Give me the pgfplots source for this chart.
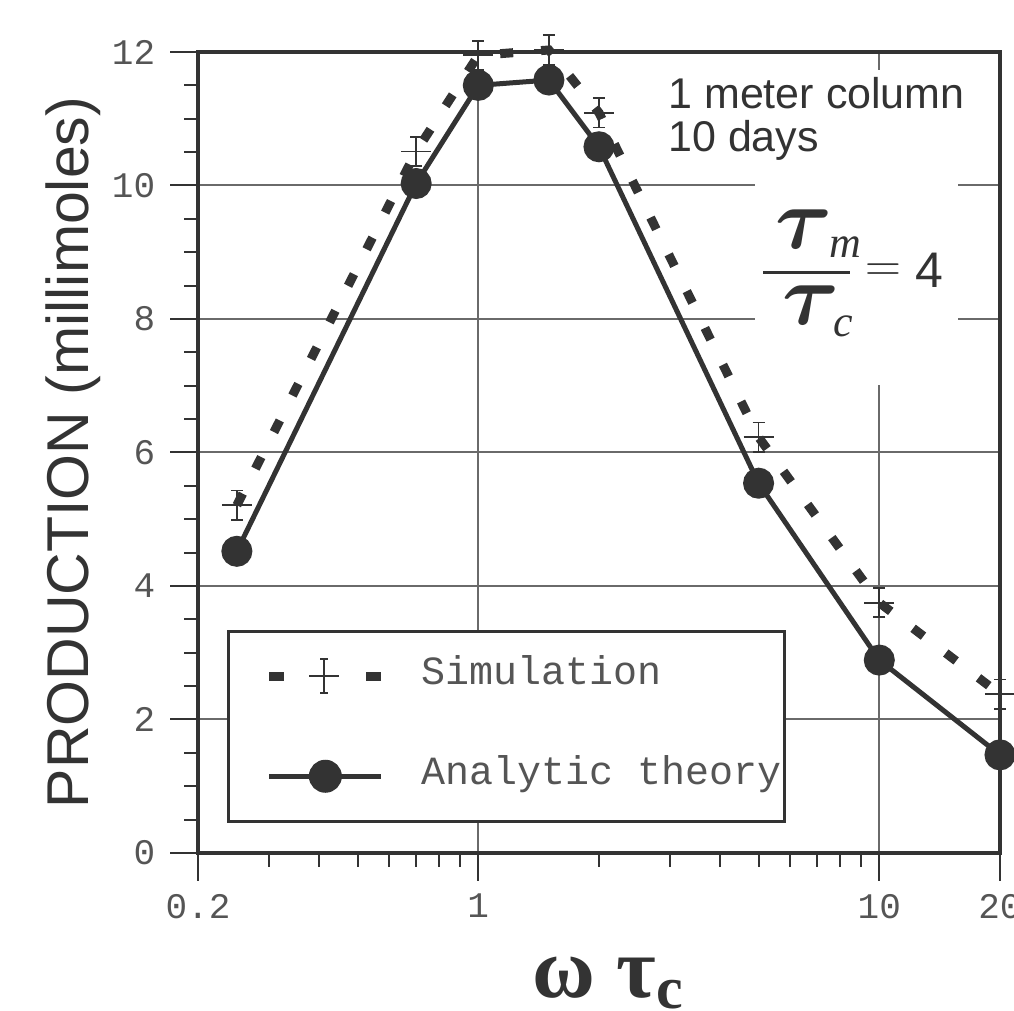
\documentclass[border=0pt]{standalone}
\usepackage{fontspec}
\setmainfont{Liberation Serif}
\setsansfont{Liberation Sans}
\setmonofont{Liberation Mono}
\usepackage{graphicx}
\usepackage{pgfplots}
\pgfplotsset{compat=1.18}
\definecolor{ink}{HTML}{333333}
\definecolor{gridc}{HTML}{6A6A6A}
\definecolor{txt}{HTML}{555555}

\pgfplotstableread{
x y err
0.25 5.21 0.22
0.7 10.51 0.22
1 11.95 0.22
1.5 12.03 0.22
2 11.09 0.22
5 6.23 0.22
10 3.75 0.22
20 2.38 0.22
}\simdata
\pgfplotstableread{
x y
0.25 4.52
0.7 10.03
1 11.5
1.5 11.58
2 10.58
5 5.54
10 2.89
20 1.47
}\theorydata

\begin{document}
\begin{tikzpicture}
\begin{axis}[
  at={(0,0)}, anchor=south west,
  scale only axis, width=401pt, height=400.5pt,
  xmode=log, xmin=0.2, xmax=20, ymin=0, ymax=12,
  clip=false,
  xtick={0.2,1,10,20},
  xticklabels={\texttt{0.2},\texttt{1},\texttt{10},\texttt{20}},
  minor xtick={0.3,0.4,0.5,0.6,0.7,0.8,0.9,2,3,4,5,6,7,8,9},
  ytick={0,2,4,6,8,10,12},
  yticklabels={\texttt{0},\texttt{2},\texttt{4},\texttt{6},\texttt{8},\texttt{10},\texttt{12}},
  minor y tick num=3,
  tick align=outside, tick pos=left,
  major tick length=14pt, minor tick length=7pt,
  tick style={ink, line width=1pt},
  grid=major, major grid style={gridc, line width=1pt},
  axis line style={ink, line width=1.6pt},
  ticklabel style={font=\ttfamily\fontsize{18}{18}\selectfont, text=txt},
  yticklabel style={xshift=-4pt},
  xticklabel style={yshift=-3pt},
  ylabel={PRODUCTION (millimoles)},
  ylabel style={at={(axis description cs:-0.137,0.5)}, anchor=base,
    font=\sffamily\fontsize{29.5}{30}\selectfont, text=ink},
  xlabel={\bfseries ω τ\raisebox{-5.5pt}{\fontsize{30}{30}\selectfont c}},
  xlabel style={at={(axis description cs:0.511,-0.1798)}, anchor=base,
    font=\rmfamily\fontsize{43}{43}\selectfont, text=ink},
  legend style={at={(axis description cs:0.036,0.0375)}, anchor=south west,
    draw=ink, line width=1.5pt, fill=white,
    inner xsep=1.5pt, inner ysep=11.6pt, row sep=28pt,
    font=\ttfamily\fontsize{20}{20}\selectfont, text=txt,
    nodes={inner sep=0pt, text height=15pt, text depth=7pt}},
  legend cell align=left,
]
% white patches hiding the grid behind the annotations
\fill[white] (axis description cs:0.825,0.584) rectangle (axis description cs:0.875,0.9775);
\fill[white] (axis description cs:0.6945,0.584) rectangle (axis description cs:0.9476,0.87);

\addplot[ink, line width=4.5pt, dash pattern=on 6.5pt off 14pt,
  mark=+, mark size=7.5pt, mark options={solid, line width=0.9pt},
  error bars/.cd, y dir=both, y explicit,
  error bar style={line width=0.9pt, solid},
  error mark options={rotate=90, mark size=3pt, line width=0.9pt, solid},
  /pgfplots/legend image code/.code={
    \path[draw=none, fill=none] (-19pt,-6pt) rectangle (76pt,6pt);
    \draw[overlay, solid, ink, line width=4.5pt] (0pt,0pt) -- (7.5pt,0pt);
    \draw[overlay, solid, ink, line width=4.5pt] (48.5pt,0pt) -- (56pt,0pt);
    \draw[overlay, solid, ink, line width=0.9pt]
      (20pt,0pt) -- (35pt,0pt)
      (27.5pt,-8.5pt) -- (27.5pt,8.5pt)
      (25.5pt,-8.5pt) -- (29.5pt,-8.5pt)
      (25.5pt,8.5pt) -- (29.5pt,8.5pt);
  },
  ]
  table[x=x, y=y, y error=err] {\simdata};
\addlegendentry{Simulation}

\addplot[ink, line width=2.5pt, mark=*, mark size=6.5pt, mark options={solid},
  legend image code/.code={
    \path[draw=none, fill=none] (-19pt,-6pt) rectangle (76pt,6pt);
    \draw[overlay, solid, ink, line width=2.5pt] (0pt,0pt) -- (56pt,0pt);
    \fill[overlay, ink] (28pt,0pt) circle (7pt);
  },
  ]
  table[x=x, y=y] {\theorydata};
\addlegendentry{Analytic theory}

\node[anchor=north west, inner sep=0pt, align=left,
  font=\sffamily\fontsize{21.5}{21.5}\selectfont, text=ink]
  at (axis description cs:0.586,0.9688) {1 meter column\\10 days};

% tau_m / tau_c = 4
\node[anchor=base west, inner sep=0pt, text=ink]
  at (axis description cs:0.7195,0.7553)
  {\scalebox{1.75}{\fontsize{24.88}{25}\selectfont\boldmath$\tau$}\kern-1.5pt{\itshape\fontsize{22}{22}\selectfont\raisebox{-5pt}{m}}};
\draw[ink, line width=1.5pt] (axis description cs:0.7045,0.7241) -- (axis description cs:0.8130,0.7241);
\node[anchor=base west, inner sep=0pt, text=ink]
  at (axis description cs:0.7282,0.6592)
  {\scalebox{1.75}{\fontsize{24.88}{25}\selectfont\boldmath$\tau$}\kern-3pt{\itshape\fontsize{22}{22}\selectfont\raisebox{-6pt}{c}}};
\node[anchor=base west, inner sep=0pt, text=ink]
  at (axis description cs:0.832,0.7054)
  {\raisebox{3pt}{\fontsize{24.88}{25}\selectfont$=$}\hspace{7pt}{\sffamily\fontsize{25}{25}\selectfont 4}};
\end{axis}
\pgfresetboundingbox
\path[use as bounding box] (-99pt,-79pt) rectangle (408pt,426.5pt);
\end{tikzpicture}
\end{document}
